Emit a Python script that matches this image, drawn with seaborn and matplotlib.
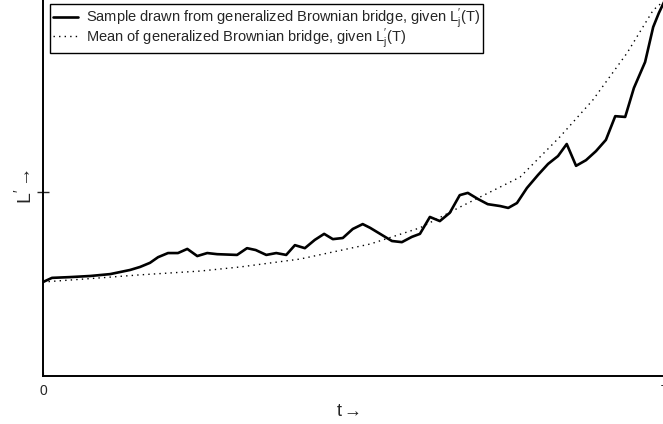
import numpy as np
import pandas as pd
import matplotlib
matplotlib.use("Agg")
import matplotlib.pyplot as plt
import seaborn as sns

# sample path of the bridge (t scaled so T = 1)
t_sample = [0.0, 0.0145, 0.043, 0.076, 0.108, 0.140, 0.156, 0.172, 0.185, 0.201,
            0.217, 0.232, 0.248, 0.264, 0.280, 0.312, 0.328, 0.342, 0.359, 0.375,
            0.391, 0.405, 0.421, 0.437, 0.452, 0.466, 0.482, 0.498, 0.514, 0.526,
            0.545, 0.561, 0.577, 0.593, 0.606, 0.622, 0.638, 0.654, 0.670, 0.683,
            0.699, 0.715, 0.735, 0.748, 0.762, 0.778, 0.796, 0.812, 0.828, 0.842,
            0.857, 0.873, 0.889, 0.905, 0.920, 0.936, 0.950, 0.968, 0.981, 0.990, 1.0]
L_sample = [0.250, 0.261, 0.263, 0.266, 0.271, 0.282, 0.290, 0.301, 0.316, 0.327,
            0.327, 0.338, 0.319, 0.327, 0.324, 0.322, 0.340, 0.335, 0.322, 0.327,
            0.322, 0.348, 0.340, 0.362, 0.378, 0.364, 0.367, 0.391, 0.404, 0.394,
            0.375, 0.359, 0.356, 0.370, 0.378, 0.423, 0.412, 0.434, 0.481, 0.487,
            0.471, 0.457, 0.452, 0.447, 0.460, 0.500, 0.535, 0.564, 0.585, 0.617,
            0.559, 0.574, 0.598, 0.628, 0.691, 0.689, 0.766, 0.835, 0.928, 0.965, 1.0]

# mean of the bridge
t_mean = [0.0, 0.092, 0.156, 0.252, 0.317, 0.413, 0.526, 0.606, 0.670, 0.767,
          0.831, 0.884, 0.939, 0.981, 1.0]
L_mean = [0.250, 0.261, 0.269, 0.279, 0.290, 0.311, 0.351, 0.394, 0.449, 0.529,
          0.636, 0.734, 0.859, 0.973, 1.0]

lab_sample = r"Sample drawn from generalized Brownian bridge, given $\mathrm{L}_j^{\prime}$(T)"
lab_mean = r"Mean of generalized Brownian bridge, given $\mathrm{L}_j^{\prime}$(T)"

sample = pd.DataFrame({"t": t_sample, "L": L_sample})
mean = pd.DataFrame({"t": t_mean, "L": L_mean})

sns.set_style("ticks")
plt.rcParams["font.family"] = ["Liberation Sans", "DejaVu Sans"]
plt.rcParams["mathtext.fontset"] = "custom"
plt.rcParams["mathtext.rm"] = "Liberation Sans"
plt.rcParams["mathtext.it"] = "Liberation Sans"

fig = plt.figure(figsize=(6.63, 4.24), dpi=100)
ax = fig.add_axes([43 / 663, 48 / 424, 622 / 663, 376 / 424])

sns.lineplot(data=sample, x="t", y="L", ax=ax, color="black", linewidth=1.9,
             label=lab_sample, sort=False)
sns.lineplot(data=mean, x="t", y="L", ax=ax, color="black", linewidth=1.0,
             linestyle=(0, (1, 3)), label=lab_mean, sort=False)

ax.set_xlim(0, 1)
ax.set_ylim(0, 1)
ax.set_xticks([0, 1])
ax.set_xticklabels(["0", "T"], fontsize=10)
ax.set_yticks([0.489])
ax.set_yticklabels([""])
ax.tick_params(axis="x", direction="in", length=3, pad=6)
ax.tick_params(axis="y", direction="inout", length=8, width=1)

ax.set_xlabel(r"t$\rightarrow$", fontsize=13)
ax.xaxis.set_label_coords(0.49, -0.072)
ax.set_ylabel(r"L$^{\prime}$$\rightarrow$", fontsize=14)
ax.yaxis.set_label_coords(-0.013, 0.505)

sns.despine(ax=ax)
for s in ["left", "bottom"]:
    ax.spines[s].set_linewidth(1.4)
    ax.spines[s].set_color("black")

leg = ax.legend(loc="upper left", bbox_to_anchor=(0.011, 0.99), fontsize=10.5,
                frameon=True, fancybox=False, edgecolor="black", framealpha=1,
                handlelength=1.7, handletextpad=0.55, borderpad=0.2,
                labelspacing=-0.35, borderaxespad=0)
leg.get_frame().set_linewidth(1.0)

fig.savefig("out.png", dpi=100)
